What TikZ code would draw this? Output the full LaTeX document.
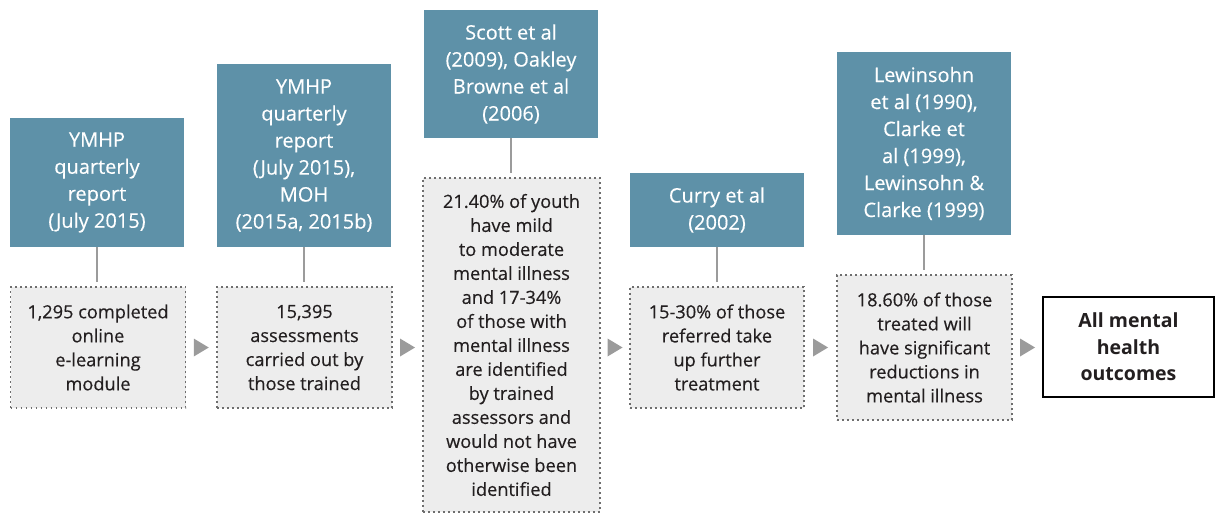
\documentclass[tikz,border=0pt]{standalone}
\usepackage{fontspec}
\setmainfont{Open Sans}[UprightFeatures={FakeBold=0.3}, BoldFeatures={FakeBold=0}]
\usetikzlibrary{calc}
\definecolor{tealbox}{HTML}{5E91A8}
\definecolor{graybox}{HTML}{EDEDED}
\definecolor{dotgray}{HTML}{6E6E6E}
\definecolor{conngray}{HTML}{9B9B9B}
\definecolor{textdark}{HTML}{231F20}
\tikzset{
  srcbox/.style={fill=tealbox, text=white, inner sep=0pt, outer sep=0pt, align=center,
    minimum width=174pt, font=\fontsize{20}{27}\selectfont},
  factbox/.style={fill=graybox, draw=dotgray, line width=1.7pt, dash pattern={on 1.7pt off 3.3pt},
    text=textdark, inner sep=0pt, outer sep=0pt, align=center, minimum width=175pt,
    font=\fontsize{18.2}{24}\selectfont},
  endbox/.style={draw=black, line width=2pt, fill=white, text=textdark, inner sep=0pt, outer sep=0pt,
    align=center, minimum width=171pt, minimum height=100pt, font=\bfseries\fontsize{19.5}{26.5}\selectfont},
  conn/.style={draw=conngray, line width=2.5pt, shorten >=5pt},
  tri/.style={fill=conngray}
}
\begin{document}
\begin{tikzpicture}[x=1pt,y=-1pt]
\useasboundingbox (0,0) rectangle (1215,514);
% source boxes
\node[srcbox, minimum height=129pt] (t1) at (97,182.5) {YMHP\\quarterly\\report\\(July 2015)};
\node[srcbox, minimum height=183pt] (t2) at (304,155.5) {YMHP\\quarterly\\report\\(July 2015),\\MOH\\(2015a, 2015b)};
\node[srcbox, minimum height=128pt] (t3) at (511,74) {Scott et al\\(2009), Oakley\\Browne et al\\(2006)};
\node[srcbox, minimum height=74pt] (t4) at (717,210) {Curry et al\\(2002)};
\node[srcbox, minimum height=183pt] (t5) at (924,143.5) {Lewinsohn\\et al (1990),\\Clarke et\\al (1999),\\Lewinsohn \&\\Clarke (1999)};
% fact boxes
\node[factbox, minimum height=121pt] (d1) at (98,347.5) {1,295 completed\\online\\e-learning\\module};
\node[factbox, minimum height=121pt] (d2) at (304.5,347.5) {15,395\\assessments\\carried out by\\those trained};
\node[factbox, minimum height=334pt, minimum width=177pt] (d3) at (511.5,345) {21.40\% of youth\\have mild\\to moderate\\mental illness\\and 17-34\%\\of those with\\mental illness\\are identified\\by trained\\assessors and\\would not have\\otherwise been\\identified};
\node[factbox, minimum height=121pt, minimum width=174pt] (d4) at (717,347.5) {15-30\% of those\\referred take\\up further\\treatment};
\node[factbox, minimum height=145pt] (d5) at (924.5,347.5) {18.60\% of those\\treated will\\have significant\\reductions in\\mental illness};
\node[endbox] (f) at (1128.5,347) {All mental\\health\\outcomes};
% connectors
\foreach \i in {1,...,5} {
  \draw[conn] (t\i.south) -- (t\i.south |- d\i.north);
}
% arrow triangles
\foreach \a/\b/\n in {d1/d2/a1, d2/d3/a2, d3/d4/a3, d4/d5/a4, d5/f/a5} {
  \coordinate (\n) at ($(\a.east |- d1.center)!0.5!(\b.west |- d1.center)$);
  \fill[tri] ([xshift=-7.5pt,yshift=9pt]\n) -- ([xshift=7.5pt]\n) -- ([xshift=-7.5pt,yshift=-9pt]\n) -- cycle;
}
\end{tikzpicture}
\end{document}
